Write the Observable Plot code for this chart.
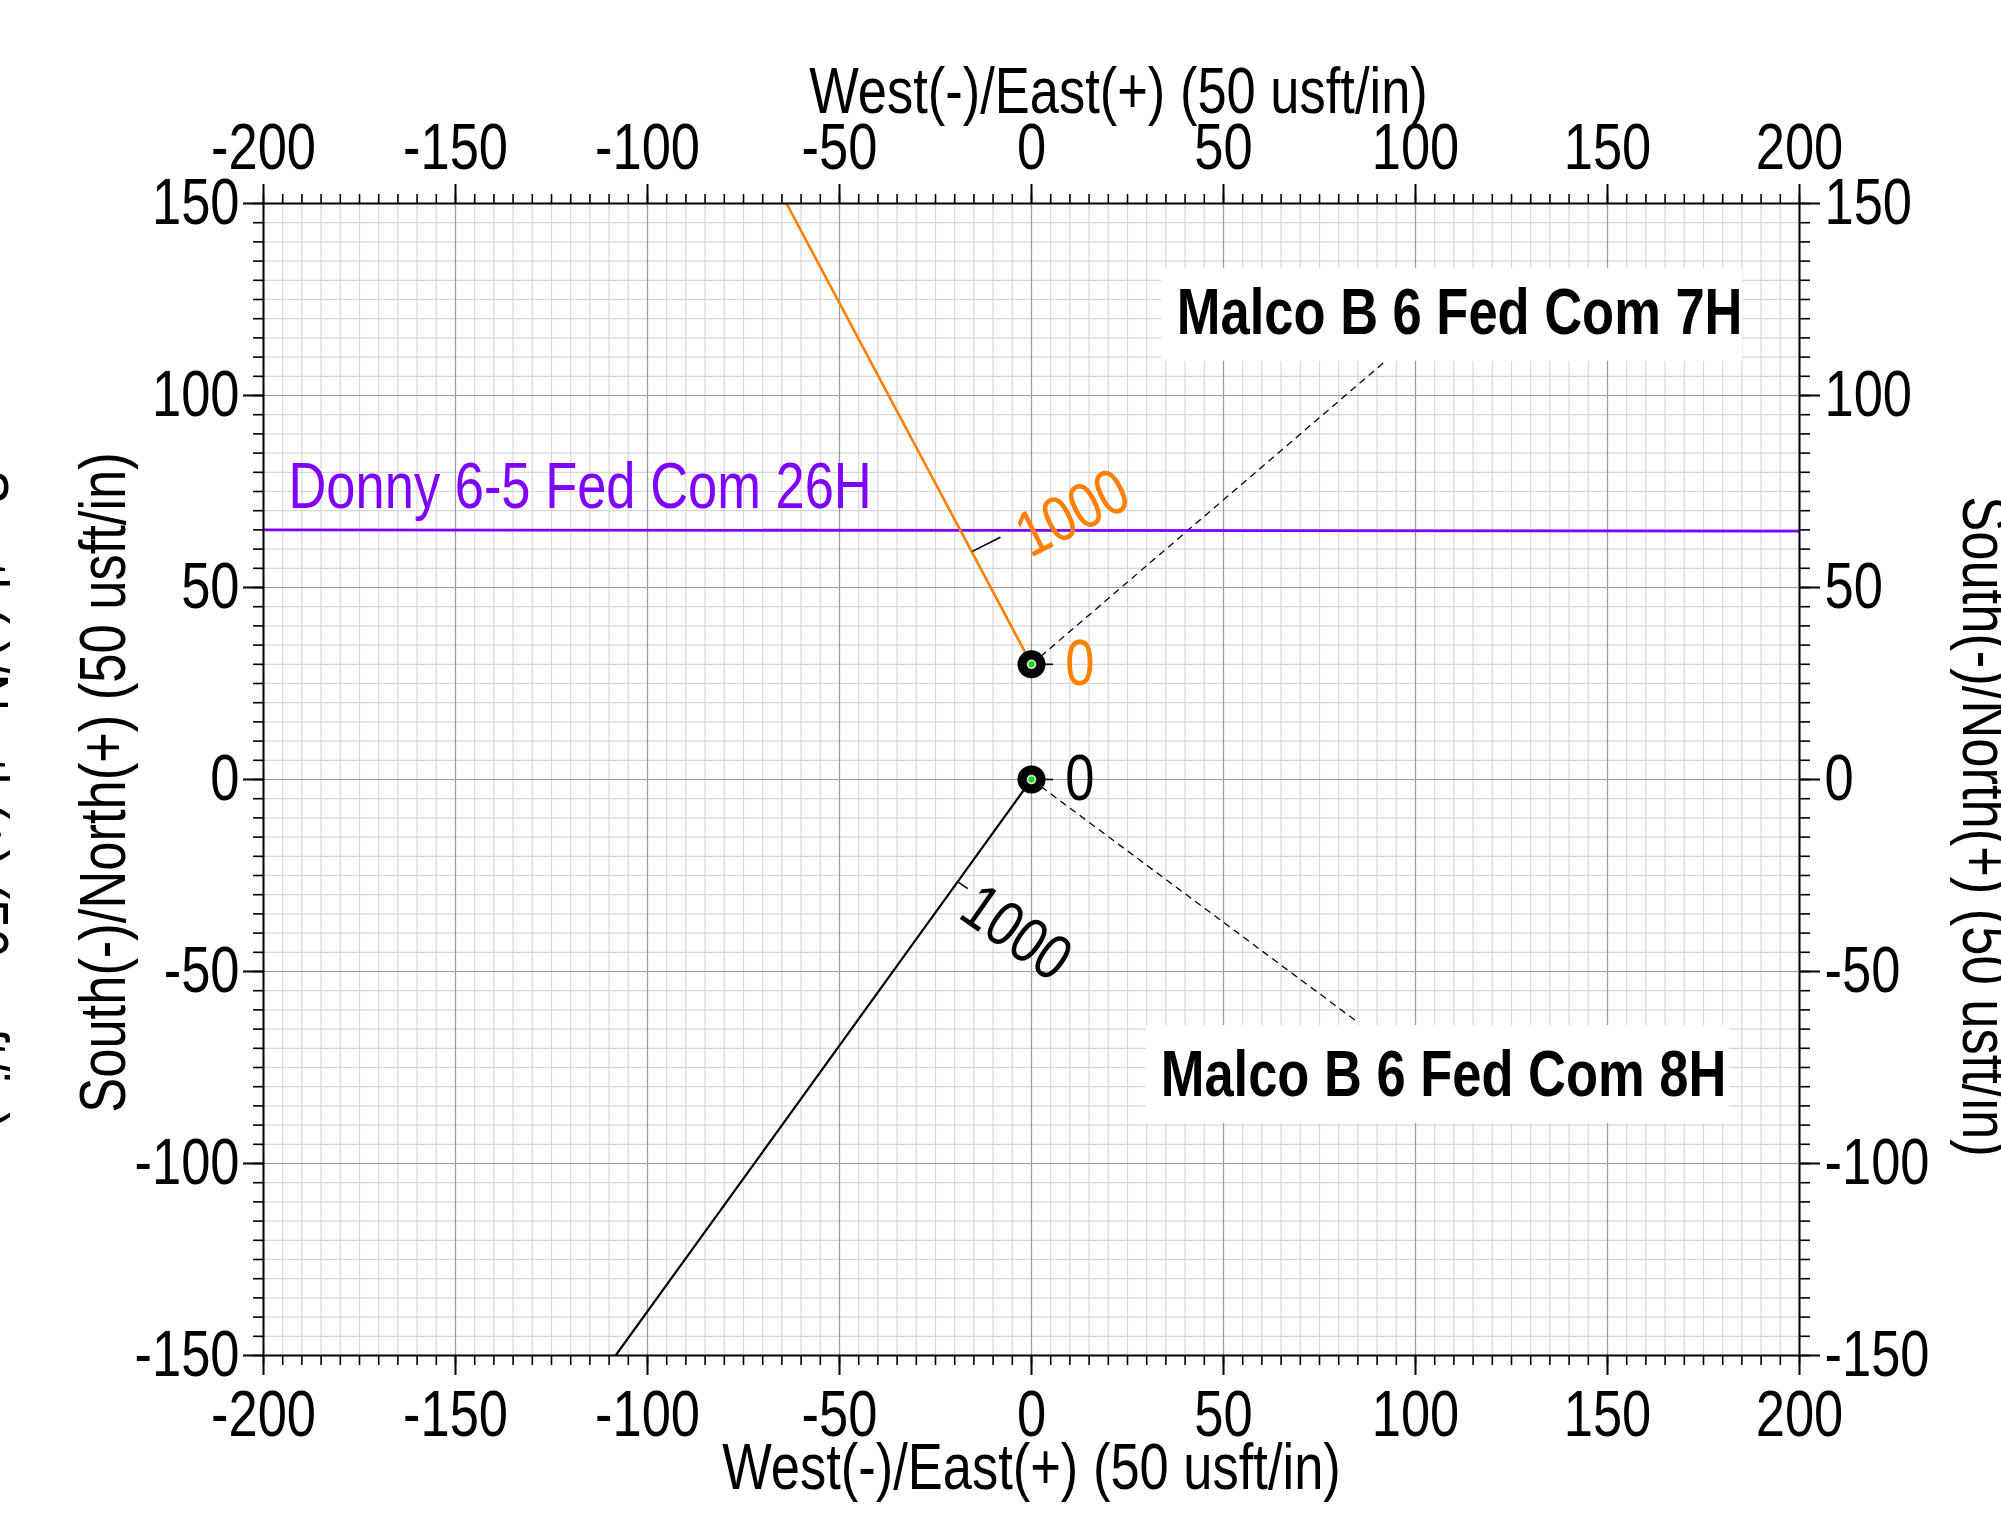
<!DOCTYPE html>
<html><head><meta charset="utf-8">
<script src="https://cdn.jsdelivr.net/npm/d3@7"></script>
<script src="https://cdn.jsdelivr.net/npm/@observablehq/plot@0.6"></script>
<style>
body{margin:0;background:#fff}
</style>
</head><body><div id="chart"></div>
<script>
// ---- tick labels ----
const xTicks = [-200, -150, -100, -50, 0, 50, 100, 150, 200];
const yTicks = [-150, -100, -50, 0, 50, 100, 150];
const xMinorTicks = [-200,-195,-190,-185,-180,-175,-170,-165,-160,-155,-150,-145,-140,-135,-130,-125,-120,-115,-110,-105,-100,-95,-90,-85,-80,-75,-70,-65,-60,-55,-50,-45,-40,-35,-30,-25,-20,-15,-10,-5,0,5,10,15,20,25,30,35,40,45,50,55,60,65,70,75,80,85,90,95,100,105,110,115,120,125,130,135,140,145,150,155,160,165,170,175,180,185,190,195,200];
const yMinorTicks = xMinorTicks.filter(v => v >= -150 && v <= 150);

// ---- axis titles ----
const xTitle = "West(-)/East(+) (50 usft/in)";
const yTitle = "South(-)/North(+) (50 usft/in)";

// ---- wells ----
const wellNames = ["Malco B 6 Fed Com 7H", "Malco B 6 Fed Com 8H"];
const surfaceX = [0, 0];
const surfaceY = [30, 0];
// Malco B 6 Fed Com 7H path (orange)
const path7X = [0, -15.6, -63.8];
const path7Y = [30, 59.4, 150];
// Malco B 6 Fed Com 8H path (black)
const path8X = [0, -19.2, -108.3];
const path8Y = [0, -26.6, -150];
// Donny 6-5 Fed Com 26H (purple)
const donnyName = "Donny 6-5 Fed Com 26H";
const donnyX = [-200, 200];
const donnyY = [65.0, 64.7];

// ---- annotations (data units) ----
const mdLabels = ["0", "1000", "0", "1000"];
const mdLabelX = [12.6, 10.7, 12.6, -4.0];
const mdLabelY = [30, 69.3, 0, -40.0];
const mdLabelRotate = [0, -27, 0, 35];
const mdLabelColor = ["#ff8000", "#ff8000", "#000000", "#000000"];
// leaders from MD points to their labels
const mdLeadX1 = [3.3, -15.4, 3.3, -19.0];
const mdLeadY1 = [30, 59.4, 0, -26.8];
const mdLeadX2 = [5.6, -8.1, 5.6, -16.6];
const mdLeadY2 = [30, 63.1, 0, -28.4];
const mdLeadDash = ["none", "7,5", "none", "7,5"];

// well name callouts
const calloutX = [111.5, 107.3];
const calloutY = [121.4, -77.1];
const boxX1 = [33.9, 29.9];
const boxX2 = [185.2, 181.8];
const boxY1 = [133.1, -64.1];
const boxY2 = [108.9, -89.6];
const leaderEndX = [92, 84.7];
const leaderEndY = [108.8, -63];

const path7 = path7X.map((x, i) => ({x, y: path7Y[i]}));
const path8 = path8X.map((x, i) => ({x, y: path8Y[i]}));
const donny = donnyX.map((x, i) => ({x, y: donnyY[i]}));
const wells = wellNames.map((name, i) => ({
  name, x: surfaceX[i], y: surfaceY[i], lx: calloutX[i], ly: calloutY[i],
  bx1: boxX1[i], bx2: boxX2[i], by1: boxY1[i], by2: boxY2[i], ex: leaderEndX[i], ey: leaderEndY[i]
}));
const md = mdLabels.map((t, i) => ({
  t, x: mdLabelX[i], y: mdLabelY[i], r: mdLabelRotate[i], c: mdLabelColor[i],
  x1: mdLeadX1[i], y1: mdLeadY1[i], x2: mdLeadX2[i], y2: mdLeadY2[i], dash: mdLeadDash[i]
}));

const FS = 64;
const fmt = d => String(d);

const chart = Plot.plot({
  width: 2001,
  height: 1514,
  marginLeft: 263,
  marginRight: 202,
  marginTop: 203,
  marginBottom: 159,
  style: {fontSize: FS + "px", fontFamily: "'Liberation Sans', Arial, sans-serif", background: "#fff", overflow: "hidden"},
  x: {domain: [-200, 200], axis: null},
  y: {domain: [-150, 150], axis: null},
  marks: [
    // grid
    Plot.gridX(xMinorTicks, {stroke: "#d6d6d6", strokeOpacity: 1, strokeWidth: 1.2}),
    Plot.gridY(yMinorTicks, {stroke: "#d6d6d6", strokeOpacity: 1, strokeWidth: 1.2}),
    Plot.gridX(xTicks, {stroke: "#9a9a9a", strokeOpacity: 1, strokeWidth: 1.2}),
    Plot.gridY(yTicks, {stroke: "#9a9a9a", strokeOpacity: 1, strokeWidth: 1.2}),
    // callout boxes
    Plot.rect(wells, {x1: "bx1", x2: "bx2", y1: "by1", y2: "by2", fill: "white"}),
    // callout leaders
    Plot.link(wells, {x1: "x", y1: "y", x2: "ex", y2: "ey", stroke: "black", strokeWidth: 1.3, strokeDasharray: "7,5"}),
    // well paths
    Plot.line(donny, {x: "x", y: "y", stroke: "#8000ff", strokeWidth: 2.8, clip: true}),
    Plot.line(path7, {x: "x", y: "y", stroke: "#ff8000", strokeWidth: 2.6, clip: true}),
    Plot.line(path8, {x: "x", y: "y", stroke: "#000000", strokeWidth: 2.2, clip: true}),
    // MD leaders
    Plot.link(md, {x1: "x1", y1: "y1", x2: "x2", y2: "y2", stroke: "black", strokeWidth: 1.6, strokeDasharray: d => d.dash}),
    // surface locations
    Plot.dot(wells, {x: "x", y: "y", r: 14, fill: "black"}),
    Plot.dot(wells, {x: "x", y: "y", r: 4.8, fill: "#e0e0e0"}),
    Plot.dot(wells, {x: "x", y: "y", r: 3, fill: "#00e000"}),
    // MD labels
    Plot.text(md, {x: "x", y: "y", text: "t", rotate: "r", fill: "c", fontSize: FS, textAnchor: "middle"}),
    // well labels
    Plot.text([donnyName], {x: -193.5, y: 70.8, textAnchor: "start", lineAnchor: "bottom", fill: "#8000ff", fontSize: FS}),
    Plot.text(wells, {x: "lx", y: "ly", text: "name", fontWeight: "bold", fontSize: FS, fill: "black", textAnchor: "middle"}),
    // frame
    Plot.frame({stroke: "black", strokeWidth: 2}),
    // axes: major and minor ticks
    Plot.axisX(xTicks, {anchor: "bottom", tickSize: 20, tickPadding: 15, tickFormat: fmt, strokeWidth: 2, fontSize: FS, label: null}),
    Plot.axisX(xTicks, {anchor: "top", tickSize: 20, tickPadding: 15, tickFormat: fmt, strokeWidth: 2, fontSize: FS, label: null}),
    Plot.axisY(yTicks, {anchor: "left", tickSize: 20, tickPadding: 4, tickFormat: fmt, strokeWidth: 2, fontSize: FS, label: null}),
    Plot.axisY(yTicks, {anchor: "right", tickSize: 20, tickPadding: 5, tickFormat: fmt, strokeWidth: 2, fontSize: FS, label: null}),
    Plot.axisX(xMinorTicks, {anchor: "bottom", tickSize: 10, tickFormat: () => "", strokeWidth: 1.6, label: null}),
    Plot.axisX(xMinorTicks, {anchor: "top", tickSize: 10, tickFormat: () => "", strokeWidth: 1.6, label: null}),
    Plot.axisY(yMinorTicks, {anchor: "left", tickSize: 10, tickFormat: () => "", strokeWidth: 1.6, label: null}),
    Plot.axisY(yMinorTicks, {anchor: "right", tickSize: 10, tickFormat: () => "", strokeWidth: 1.6, label: null}),
    // axis titles
    Plot.text([xTitle], {frameAnchor: "top", dx: 87, dy: -91, lineAnchor: "bottom", textAnchor: "middle", fontSize: FS}),
    Plot.text([xTitle], {frameAnchor: "bottom", dy: 133, lineAnchor: "bottom", textAnchor: "middle", fontSize: FS}),
    Plot.text([yTitle], {frameAnchor: "left", dx: -139, dy: 3, rotate: -90, lineAnchor: "bottom", textAnchor: "middle", fontSize: FS}),
    Plot.text([yTitle], {frameAnchor: "right", dx: 163, dy: 47, rotate: 90, lineAnchor: "bottom", textAnchor: "middle", fontSize: FS}),
    Plot.text([yTitle], {frameAnchor: "left", dx: -301, dy: 20, rotate: 90, lineAnchor: "bottom", textAnchor: "middle", fontSize: FS})
  ]
});

// Condense all text horizontally (Arial Narrow look) about each text's own anchor point
chart.querySelectorAll("text").forEach(t => {
  const tr = t.getAttribute("transform") || "";
  t.setAttribute("transform", (tr + " scale(0.82,1)").trim());
});
document.getElementById("chart").appendChild(chart);
</script>
</body></html>
